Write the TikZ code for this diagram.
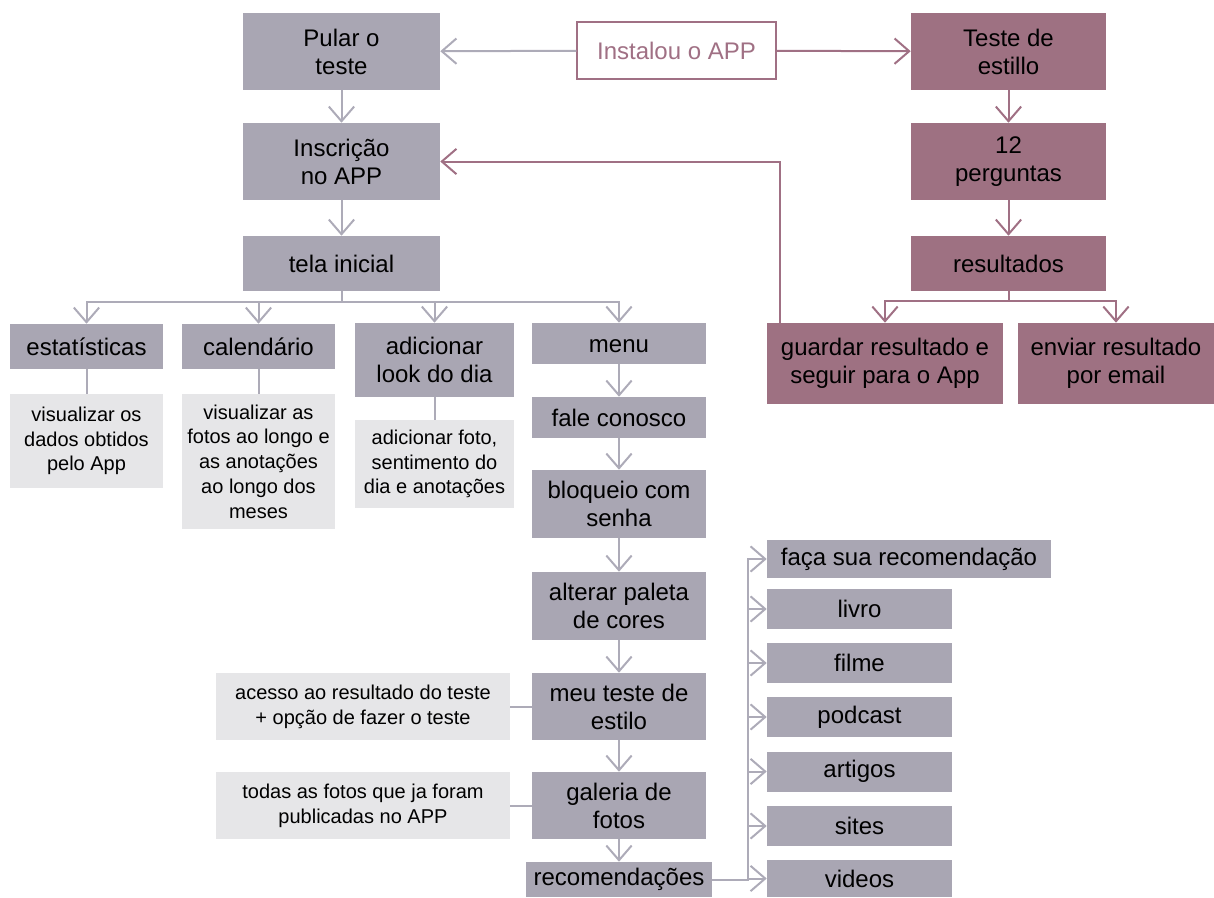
\documentclass[tikz,border=0pt]{standalone}
\usepackage{fontspec}
\setmainfont{Liberation Sans}
\usetikzlibrary{arrows.meta}
\definecolor{boxgray}{RGB}{169,166,179}
\definecolor{boxmauve}{RGB}{158,113,130}
\definecolor{boxlight}{RGB}{230,230,232}
\definecolor{linegray}{RGB}{173,171,184}
\definecolor{linemauve}{RGB}{160,112,132}

\begin{document}
\begin{tikzpicture}[x=0.75pt,y=0.75pt,yscale=-1,xscale=1,
  grybox/.style={fill=boxgray,inner sep=0pt,align=center,font=\fontsize{18}{21}\selectfont},
  mvbox/.style={fill=boxmauve,inner sep=0pt,align=center,font=\fontsize{18}{21}\selectfont},
  notebox/.style={fill=boxlight,inner sep=0pt,align=center,font=\fontsize{15}{18.6}\selectfont},
  garr/.style={draw=linegray,line width=1.5pt,-{Straight Barb[length=11pt,width=19pt,line width=1.5pt]}},
  parr/.style={draw=linemauve,line width=1.5pt,-{Straight Barb[length=11pt,width=19pt,line width=1.5pt]}},
  gline/.style={draw=linegray,line width=1.5pt}]
\useasboundingbox (0,0) rectangle (1214,897);

%top row
\node[draw=linemauve,line width=1.2pt,fill=white,inner sep=0pt,minimum width=149pt,minimum height=42.75pt,text=linemauve,font=\fontsize{18}{21}\selectfont] (instalou) at (676.5,50.5) {Instalou o APP};
\node[grybox,minimum width=147.75pt,minimum height=57.75pt] (pular) at (341.5,51.5) {Pular o\\teste};
\node[mvbox,minimum width=146.25pt,minimum height=57.75pt] (teste) at (1008.5,51.5) {Teste de\\estillo};

%second and third rows
\node[grybox,minimum width=147.75pt,minimum height=57.75pt] (inscricao) at (341.5,161.5) {Inscrição\\no APP};
\node[mvbox,minimum width=146.25pt,minimum height=57.75pt] (perguntas) at (1008.5,161.5) {12\\perguntas};
\node[grybox,minimum width=147.75pt,minimum height=41.25pt] (tela) at (341.5,263.5) {tela inicial};
\node[mvbox,minimum width=146.25pt,minimum height=41.25pt] (resultados) at (1008.5,263.5) {resultados};

%result boxes
\node[mvbox,minimum width=177pt,minimum height=60.75pt] (guardar) at (885,363.5) {guardar resultado e\\seguir para o App};
\node[mvbox,minimum width=147pt,minimum height=60.75pt] (enviar) at (1116,363.5) {enviar resultado\\por email};

%sections of the home screen
\node[grybox,minimum width=114.75pt,minimum height=33.75pt] (estat) at (86.5,346.5) {estatísticas};
\node[grybox,minimum width=114.75pt,minimum height=33.75pt] (calend) at (258.5,346.5) {calendário};
\node[grybox,minimum width=119.25pt,minimum height=55.5pt] (adic) at (434.5,360) {adicionar\\look do dia};
\node[grybox,minimum width=130.5pt,minimum height=30.75pt,text height=13pt,text depth=0pt] (menu) at (619,343.5) {menu};

\node[notebox,minimum width=114.75pt,minimum height=70.5pt] (vis1) at (86.5,441) {visualizar os\\dados obtidos\\pelo App};
\node[notebox,minimum width=114.75pt,minimum height=101.25pt] (vis2) at (258.5,461.5) {visualizar as\\fotos ao longo e\\as anotações\\ao longo dos\\meses};
\node[notebox,minimum width=119.25pt,minimum height=66pt] (adfoto) at (434.5,464) {adicionar foto,\\sentimento do\\dia e anotações};

%menu items
\node[grybox,minimum width=130.5pt,minimum height=30.75pt] (fale) at (619,417.5) {fale conosco};
\node[grybox,minimum width=130.5pt,minimum height=51pt] (bloqueio) at (619,504) {bloqueio com\\senha};
\node[grybox,minimum width=130.5pt,minimum height=51pt] (alterar) at (619,606) {alterar paleta\\de cores};
\node[grybox,minimum width=130.5pt,minimum height=50.25pt] (meuteste) at (619,706.5) {meu teste de\\estilo};
\node[grybox,minimum width=130.5pt,minimum height=50.25pt] (galeria) at (619,805.5) {galeria de\\fotos};
\node[grybox,minimum width=139.5pt,minimum height=26.25pt] (recom) at (619,879.5) {recomendações};

\node[notebox,minimum width=220.5pt,minimum height=50.25pt] (acesso) at (363,706.5) {acesso ao resultado do teste\\+ opção de fazer o teste};
\node[notebox,minimum width=220.5pt,minimum height=50.25pt] (todas) at (363,805.5) {todas as fotos que ja foram\\publicadas no APP};

%recommendations
\node[grybox,minimum width=213pt,minimum height=28.5pt] (faca) at (909,559) {faça sua recomendação};
\node[grybox,minimum width=138.75pt,minimum height=30pt] (livro) at (859.5,609) {livro};
\node[grybox,minimum width=138.75pt,minimum height=30pt] (filme) at (859.5,663) {filme};
\node[grybox,minimum width=138.75pt,minimum height=30pt] (podcast) at (859.5,717) {podcast};
\node[grybox,minimum width=138.75pt,minimum height=30pt] (artigos) at (859.5,771.5) {artigos};
\node[grybox,minimum width=138.75pt,minimum height=30pt] (sites) at (859.5,826) {sites};
\node[grybox,minimum width=138.75pt,minimum height=28pt] (videos) at (859.5,878.5) {videos};

%helper coordinates
\coordinate (busa) at (0,302);
\coordinate (busb) at (0,301);
\coordinate (ret) at (780,0);
\coordinate (bar) at (748,0);

%connectors
\draw[garr] (instalou) -- (pular);
\draw[parr] (instalou) -- (teste);
\draw[garr] (pular) -- (inscricao);
\draw[garr] (inscricao) -- (tela);
\draw[parr] (teste) -- (perguntas);
\draw[parr] (perguntas) -- (resultados);
\draw[parr] (resultados.south) |- (busb -| guardar.north) -- (guardar.north);
\draw[parr] (resultados.south) |- (busb -| enviar.north) -- (enviar.north);
\draw[parr] (ret |- guardar.north) |- (inscricao.east);

\foreach \s in {estat,calend,adic,menu}
  \draw[garr] (tela.south) |- (busa -| \s.north) -- (\s.north);
\draw[gline] (estat) -- (vis1);
\draw[gline] (calend) -- (vis2);
\draw[gline] (adic) -- (adfoto);

\draw[garr] (menu) -- (fale);
\draw[garr] (fale) -- (bloqueio);
\draw[garr] (bloqueio) -- (alterar);
\draw[garr] (alterar) -- (meuteste);
\draw[garr] (meuteste) -- (galeria);
\draw[garr] (galeria) -- (recom);
\draw[gline] (acesso) -- (meuteste);
\draw[gline] (todas) -- (galeria);

\foreach \r in {faca,livro,filme,podcast,artigos,sites,videos}
  \draw[garr] (recom.east) -| (bar |- \r.west) -- (\r.west);
\end{tikzpicture}
\end{document}
